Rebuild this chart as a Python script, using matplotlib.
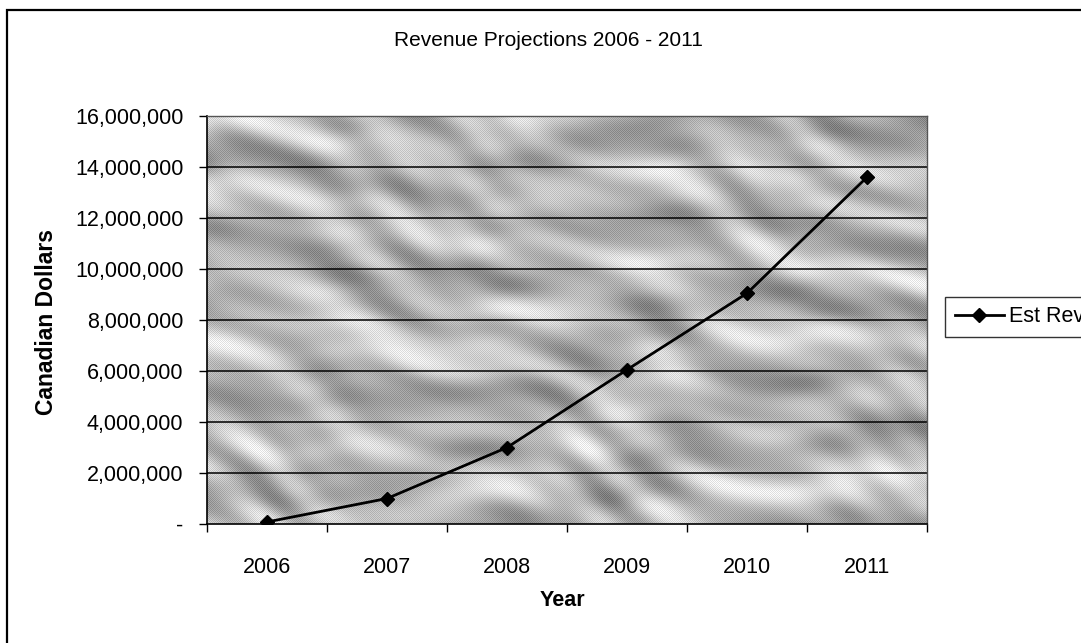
import numpy as np
import matplotlib.pyplot as plt
from matplotlib.patches import Rectangle

plt.rcParams['font.family'] = ['Liberation Sans', 'DejaVu Sans']

# revenue estimates by year
years = ["2006", "2007", "2008", "2009", "2010", "2011"]
est_rev = [80000, 1000000, 3000000, 6050000, 9050000, 13600000]
y_ticks = [0, 2000000, 4000000, 6000000, 8000000, 10000000, 12000000, 14000000, 16000000]
y_tick_labels = ["-", "2,000,000", "4,000,000", "6,000,000", "8,000,000",
                 "10,000,000", "12,000,000", "14,000,000", "16,000,000"]

fig = plt.figure(figsize=(10.81, 6.43), dpi=100)
ax = fig.add_axes([207 / 1081, 1 - 524 / 643, 720 / 1081, 408 / 643])

x = np.arange(len(years))
ax.set_xlim(-0.5, len(years) - 0.5)
ax.set_ylim(0, 16000000)

# marbled grey fill for the plot area: streaky bands running slightly downhill
H, W = 408, 720
yy, xx = np.mgrid[0:H, 0:W].astype(float)


def streaks(angle_deg, along, across, phase, bend):
    a = np.deg2rad(angle_deg)
    u = xx * np.cos(a) + yy * np.sin(a)
    v = -xx * np.sin(a) + yy * np.cos(a)
    return np.sin(v / across + bend * np.sin(u / along + phase)
                  + 0.7 * bend * np.cos(u / (along * 1.9) - v / 60.0 + phase))


tex = (0.40 * streaks(18, 55.0, 11.0, 0.0, 2.2)
       + 0.30 * streaks(-8, 80.0, 17.0, 1.7, 1.8)
       + 0.20 * streaks(30, 40.0, 7.0, 3.1, 1.5)
       + 0.10 * streaks(5, 25.0, 5.0, 0.6, 1.2))
tex = (tex - tex.min()) / (tex.max() - tex.min())
shade = 0.48 + 0.47 * tex
shade += np.where((xx.astype(int) + yy.astype(int)) % 2 == 0, 0.06, -0.06)
shade = np.clip(shade, 0, 1)
ax.imshow(shade, cmap="gray", vmin=0, vmax=1, aspect="auto", interpolation="nearest",
          extent=(-0.5, len(years) - 0.5, 0, 16000000), zorder=0)

# horizontal gridlines
for yv in y_ticks[1:-1]:
    ax.axhline(yv, color="black", lw=1.1, zorder=1)

ax.plot(x, est_rev, color="black", lw=2.0, marker="D", markersize=7,
        label="Est Rev", zorder=3)

ax.set_yticks(y_ticks)
ax.set_yticklabels(y_tick_labels, fontsize=15.5)
ax.set_xticks(x)
ax.set_xticklabels(years, fontsize=15.5)
ax.set_xticks(np.arange(-0.5, len(years)), minor=True)
ax.tick_params(axis="x", which="major", length=0, pad=24)
ax.tick_params(axis="x", which="minor", length=6, width=1, direction="out")
ax.tick_params(axis="y", length=6, width=1, pad=11)

for side in ["left", "bottom"]:
    ax.spines[side].set_color("black")
    ax.spines[side].set_linewidth(1.2)
for side in ["top", "right"]:
    ax.spines[side].set_color("#555555")
    ax.spines[side].set_linewidth(1.0)

fig.text(548 / 1081, 1 - 40 / 643, "Revenue Projections 2006 - 2011",
         ha="center", va="center", fontsize=15)
fig.text(47 / 1081, 1 - 322 / 643, "Canadian Dollars", rotation=90,
         ha="center", va="center", fontsize=16.5, fontweight="bold")
fig.text(562 / 1081, 1 - 600 / 643, "Year", ha="center", va="center",
         fontsize=15.5, fontweight="bold")

leg = fig.legend(loc="center left", bbox_to_anchor=(945 / 1081, 1 - 317 / 643),
                 fontsize=15.5, frameon=True, fancybox=False, edgecolor="black",
                 handlelength=2.3, handletextpad=0.2, borderpad=0.45, borderaxespad=0)
leg.get_frame().set_linewidth(1.0)

# chart border
fig.patches.append(Rectangle((7 / 1081, -0.1), 1.2, 1 - 10 / 643 + 0.1,
                             transform=fig.transFigure, fill=False,
                             edgecolor="black", lw=1.6))

plt.savefig("out.png", dpi=100)
